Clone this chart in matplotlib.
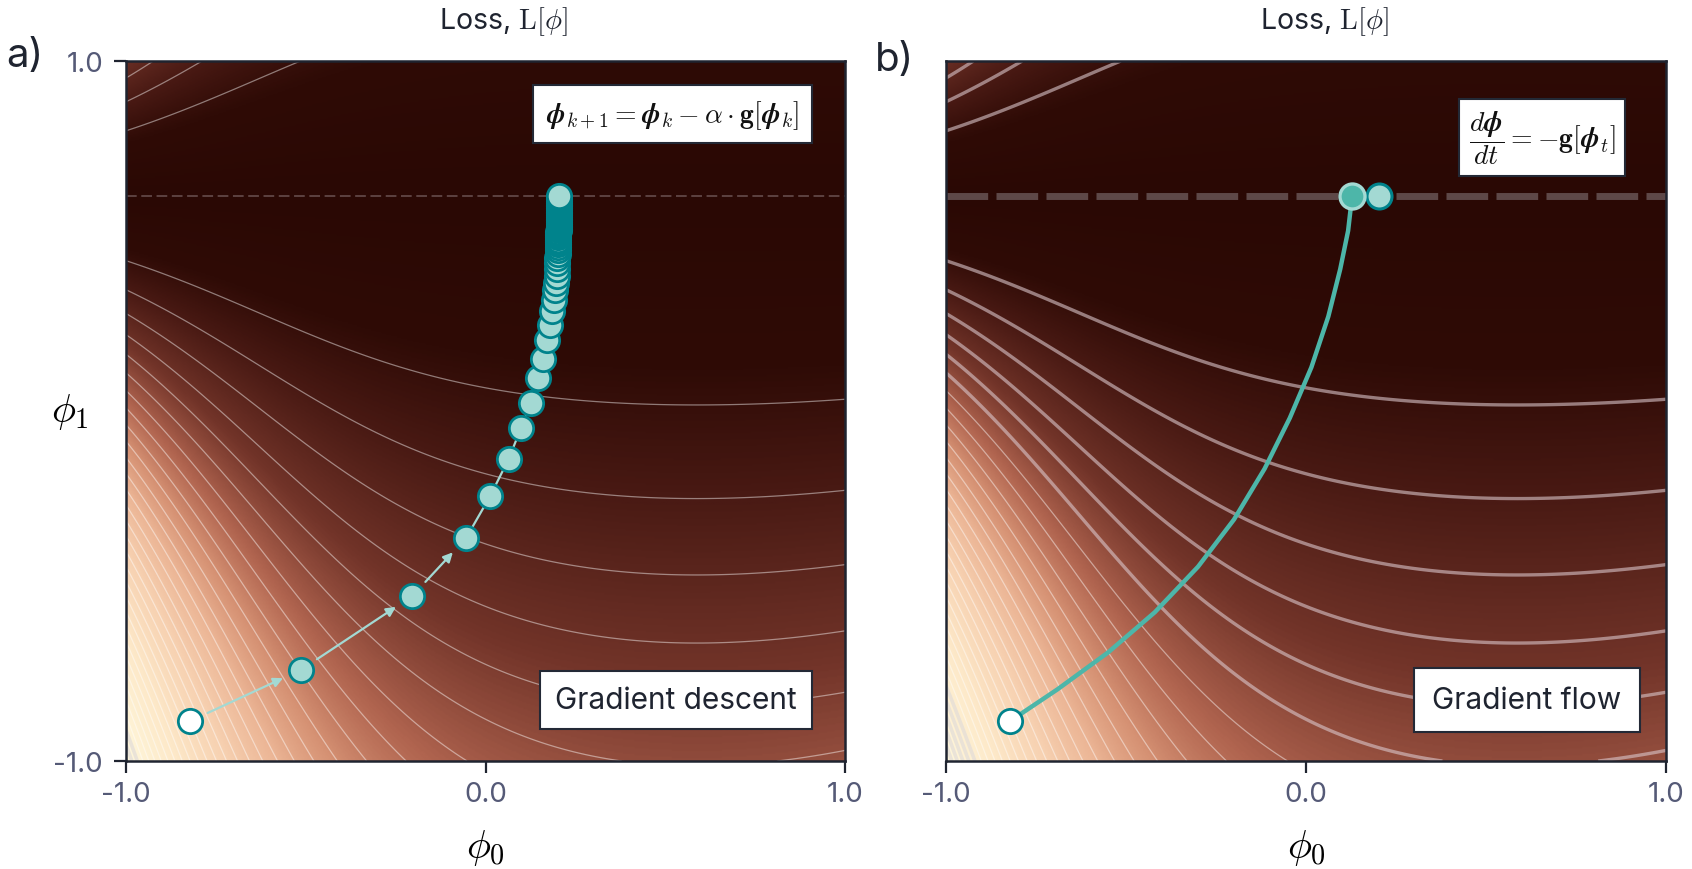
import numpy as np
import matplotlib.pyplot as plt
from matplotlib.colors import LinearSegmentedColormap, PowerNorm
from matplotlib.patches import FancyArrowPatch

plt.rcParams['font.family'] = ['Inter', 'DejaVu Sans']
plt.rcParams['mathtext.fontset'] = 'cm'

#------------------
# Data
#------------------

# gradient descent iterates (panel a)
gd_phi0 = [-0.822, -0.514, -0.204, -0.054, 0.013, 0.065, 0.099, 0.127, 0.145, 0.159,
           0.170, 0.180, 0.185, 0.190, 0.194, 0.196, 0.198, 0.199, 0.200, 0.200,
           0.201, 0.201, 0.202, 0.202, 0.202, 0.203, 0.203, 0.203, 0.203, 0.203,
           0.204, 0.204, 0.204, 0.204, 0.204, 0.204, 0.204, 0.204, 0.204, 0.204,
           0.204, 0.204, 0.204, 0.204, 0.204, 0.204, 0.204, 0.204, 0.204, 0.204, 0.204]
gd_phi1 = [-0.886, -0.740, -0.529, -0.363, -0.243, -0.136, -0.048, 0.023, 0.095, 0.150,
           0.202, 0.247, 0.285, 0.318, 0.345, 0.367, 0.387, 0.406, 0.422, 0.436,
           0.449, 0.460, 0.469, 0.477, 0.484, 0.490, 0.497, 0.502, 0.507, 0.512,
           0.516, 0.520, 0.525, 0.530, 0.535, 0.540, 0.545, 0.550, 0.555, 0.560,
           0.565, 0.570, 0.575, 0.580, 0.585, 0.590, 0.595, 0.600, 0.605, 0.610, 0.615]

# gradient flow path (panel b)
flow_phi0 = [-0.822, -0.690, -0.550, -0.420, -0.300, -0.200, -0.115, -0.045,
             0.015, 0.062, 0.095, 0.117, 0.128]
flow_phi1 = [-0.886, -0.795, -0.690, -0.575, -0.445, -0.310, -0.165, -0.020,
             0.125, 0.270, 0.405, 0.515, 0.614]

valley_phi1 = 0.615          # dashed line, line of minima

tick_vals = [-1.0, 0.0, 1.0]
tick_text = ['-1.0', '0.0', '1.0']

# shape of the loss surface
loss_base = 2.9
loss_wall = 25.8
loss_decay = 4.2
loss_curve = 0.8
loss_xmin = 0.5

#------------------
# Loss surface
#------------------

grid = np.linspace(-1, 1, 500)
P0, P1 = np.meshgrid(grid, grid)
g_fac = loss_base + loss_wall * np.exp(-loss_decay * (P0 + 1)) + loss_curve * (P0 - loss_xmin) ** 2
loss = (P1 - valley_phi1) ** 2 * g_fac

kk = np.arange(1, 60)
levels = kk + 0.05 * kk ** 2
levels = levels[levels < loss.max()]
n_lev = len(levels)

cmap = LinearSegmentedColormap.from_list('loss', [
    (0.00, '#2a0804'), (0.12, '#2f0b06'), (0.20, '#4a1a14'), (0.30, '#723429'),
    (0.40, '#b0644f'), (0.48, '#d69274'), (0.56, '#ecb696'), (0.66, '#f7d1b1'),
    (0.80, '#fde8c8'), (1.00, '#fff8dc')])
norm = PowerNorm(gamma=0.45, vmin=0, vmax=loss.max())

spine_col = '#1f2430'
tick_col = '#555a77'


def draw_panel(ax, n_thick_low, lw_thick, n_thick_high):
    ax.imshow(loss, extent=(-1, 1, -1, 1), origin='lower', cmap=cmap, norm=norm,
              aspect='auto', interpolation='bilinear', zorder=0)
    lws, cols = [], []
    for i in range(n_lev):
        if i < n_thick_low:
            lws.append(lw_thick)
            cols.append((0.86, 0.78, 0.80, 0.6))
        elif i >= n_lev - n_thick_high:
            lws.append(2.6)
            cols.append((0.88, 0.86, 0.85, 0.65))
        else:
            lws.append(0.9)
            cols.append((1, 1, 1, 0.45))
    ax.contour(P0, P1, loss, levels=levels, colors=cols, linewidths=lws, zorder=1)
    ax.set_xlim(-1, 1)
    ax.set_ylim(-1, 1)
    ax.set_xticks(tick_vals)
    ax.set_xticklabels(tick_text)
    for s in ax.spines.values():
        s.set_color(spine_col)
        s.set_linewidth(1.8)
    ax.tick_params(colors=spine_col, labelcolor=tick_col, labelsize=20,
                   length=8.5, width=1.6, pad=6)
    ax.set_xlabel(r'$\phi_0$', fontsize=29, va='center')
    ax.xaxis.set_label_coords(0.5, -0.123)


fig = plt.figure(figsize=(16.92, 8.70), dpi=100)
ax_a = fig.add_axes([126 / 1692, 108 / 870, 719 / 1692, 700 / 870])
ax_b = fig.add_axes([946 / 1692, 108 / 870, 720 / 1692, 700 / 870])

#------------------
# Panel a: gradient descent
#------------------

draw_panel(ax_a, 0, 0.9, 3)
ax_a.axhline(valley_phi1, color='#6a5252', lw=1.1, ls=(0, (7, 3)), zorder=2)
ax_a.set_yticks([-1, 1])
ax_a.set_yticklabels(['-1.0', '1.0'])
ax_a.tick_params(axis='y', pad=8)
ax_a.set_ylabel(r'$\phi_1$', fontsize=29, rotation=0, va='center', ha='center')
ax_a.yaxis.set_label_coords(-0.078, 0.5)

for i in range(3):
    arr = FancyArrowPatch((gd_phi0[i], gd_phi1[i]), (gd_phi0[i + 1], gd_phi1[i + 1]),
                          arrowstyle='-|>', mutation_scale=14, color='#a3d9d3',
                          lw=1.6, shrinkA=14, shrinkB=14, zorder=3)
    ax_a.add_patch(arr)
ax_a.plot(gd_phi0[3:], gd_phi1[3:], color='#a3d9d3', lw=1.6, zorder=3)
ax_a.plot(gd_phi0[1:], gd_phi1[1:], ls='none', marker='o', ms=17.5, mfc='#a3d9d3',
          mec='#00838c', mew=2.0, zorder=4)
ax_a.plot(gd_phi0[0], gd_phi1[0], marker='o', ms=17.5, mfc='white',
          mec='#00838c', mew=2.0, zorder=4)

ax_a.text(0.76, 0.924,
          r'$\boldsymbol{\phi}_{k+1} = \boldsymbol{\phi}_k - \alpha\cdot\mathbf{g}[\boldsymbol{\phi}_k]$',
          transform=ax_a.transAxes, ha='center', va='center', fontsize=20,
          color='#111111', zorder=6,
          bbox=dict(boxstyle='square,pad=0.45', fc='white', ec='#232936', lw=1.5))
ax_a.text(0.765, 0.087, 'Gradient descent', transform=ax_a.transAxes, ha='center',
          va='center', fontsize=21.5, color=spine_col, zorder=6,
          bbox=dict(boxstyle='square,pad=0.5', fc='white', ec='#232936', lw=1.5))

#------------------
# Panel b: gradient flow
#------------------

draw_panel(ax_b, 6, 2.4, 6)
ax_b.axhline(valley_phi1, color='#5e4848', lw=5, ls=(0, (6, 1.2)), zorder=2)
ax_b.set_yticks([])
ax_b.plot(flow_phi0, flow_phi1, color='#4db6a9', lw=3.2, zorder=3, solid_capstyle='round')
ax_b.plot(gd_phi0[-1], gd_phi1[-1], marker='o', ms=18, mfc='#a3d9d3',
          mec='#00838c', mew=2.2, zorder=4)
ax_b.plot(flow_phi0[-1], flow_phi1[-1], marker='o', ms=18, mfc='#4db6a9',
          mec='#a3d9d3', mew=2.4, zorder=5)
ax_b.plot(flow_phi0[0], flow_phi1[0], marker='o', ms=17.5, mfc='white',
          mec='#00838c', mew=2.0, zorder=5)

ax_b.text(0.828, 0.891, r'$\dfrac{d\boldsymbol{\phi}}{dt} = -\mathbf{g}[\boldsymbol{\phi}_t]$',
          transform=ax_b.transAxes, ha='center', va='center', fontsize=20,
          color='#111111', zorder=6,
          bbox=dict(boxstyle='square,pad=0.35', fc='white', ec='#232936', lw=1.5))
ax_b.text(0.807, 0.087, 'Gradient flow', transform=ax_b.transAxes, ha='center',
          va='center', fontsize=21.5, color=spine_col, zorder=6,
          bbox=dict(boxstyle='square,pad=0.6', fc='white', ec='#232936', lw=1.5))

#------------------
# Titles and panel labels
#------------------

for ax in (ax_a, ax_b):
    pos = ax.get_position()
    fig.text(pos.x0 + pos.width / 2 + 18 / 1692, 1 - 22 / 870, r'Loss, $\mathrm{L}[\phi]$',
             ha='center', va='center', fontsize=20.5, color=spine_col)
fig.text(25 / 1692, 1 - 56 / 870, 'a)', ha='center', va='center', fontsize=29, color=spine_col)
fig.text(894 / 1692, 1 - 61 / 870, 'b)', ha='center', va='center', fontsize=29, color=spine_col)

fig.savefig('out.png', dpi=100)
